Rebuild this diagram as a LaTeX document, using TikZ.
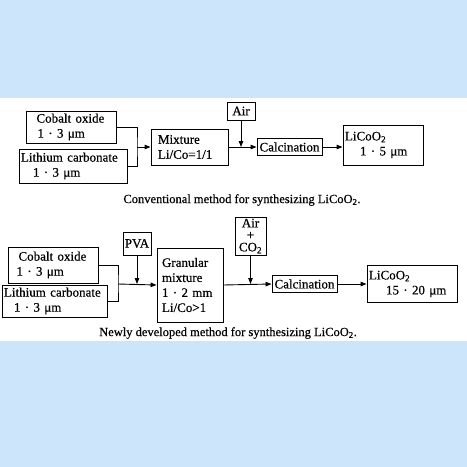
\documentclass[tikz,border=0pt]{standalone}
\usepackage{fontspec}
\setmainfont{Liberation Serif}[FakeBold=0.5]
\usetikzlibrary{arrows.meta,positioning}
\definecolor{bgblue}{RGB}{205,229,250}

\begin{document}
\begin{tikzpicture}[x=1pt,y=-1pt,>={Triangle[length=6pt,width=4.5pt]},line width=0.9pt,
                    every node/.style={font=\fontsize{13}{15}\selectfont}]
  \tikzstyle{box}=[draw,inner xsep=2pt,inner ysep=1pt,align=left]
  \tikzstyle{small box}=[box,align=center,inner sep=1pt]
  \tikzstyle{caption}=[font=\fontsize{12.5}{14}\selectfont]

  \useasboundingbox (0,0) rectangle (467,467);
  \fill[bgblue] (0,0) rectangle (467,467);
  \fill[white]  (0,98) rectangle (467,341);

  % conventional method
  \node[box,text width=86pt,minimum height=32pt]  (CobaltA)   at (71.5,127)  {\hspace*{8pt}Cobalt oxide\\\hspace*{9pt}1 · 3 μm};
  \node[box,text width=104pt,minimum height=34pt] (LithiumA)  at (73,166)    {Lithium carbonate\\\hspace*{12pt}1 · 3 μm};
  \node[box,text width=73pt,minimum height=36pt]  (MixtureA)  at (189.5,147) {\hspace*{5pt}Mixture\\\hspace*{5pt}Li/Co=1/1};
  \node[small box,minimum width=28pt,minimum height=18pt] (AirA)  at (241,111)   {Air};
  \node[small box,minimum width=65pt,minimum height=17pt] (CalcA) at (289.5,147) {Calcination};
  \node[box,text width=76pt,minimum height=40pt]  (ProductA)  at (383,145)   {LiCoO\textsubscript{2}\\\hspace*{15pt}1 · 5 μm};
  \node[caption] (CaptionA) at (242,200) {Conventional method for synthesizing LiCoO\textsubscript{2}.};

  \coordinate (JoinA) at (137,147);
  \draw (CobaltA.east) -| (JoinA) |- (LithiumA.east);
  \draw[->] (JoinA) -- (MixtureA.west);
  \draw[->] (MixtureA.east) -- (CalcA.west);
  \draw[->] (AirA.south) -- (AirA |- CalcA.west);
  \draw[->] (CalcA.east) -- (CalcA.east -| ProductA.west);

  % newly developed method
  \node[box,text width=86pt,minimum height=36pt]  (CobaltB)   at (53.5,265)  {\hspace*{8pt}Cobalt oxide\\\hspace*{6pt}1 · 3 μm};
  \node[box,text width=101pt,minimum height=32pt] (LithiumB)  at (54.5,301)  {Lithium carbonate\\\hspace*{10pt}1 · 3 μm};
  \node[small box,minimum width=28pt,minimum height=23pt] (PVAB)  at (137,243.5) {PVA};
  \node[box,text width=62pt,minimum height=74pt]  (GranularB) at (190,285)   {\hspace*{3pt}Granular\\\hspace*{3pt}mixture\\\hspace*{3pt}1 · 2 mm\\\hspace*{3pt}Li/Co>1};
  \node[small box,minimum width=31pt,minimum height=38pt,font=\fontsize{13}{12}\selectfont] (AirB) at (250.5,236) {Air\\+\\CO\textsubscript{2}};
  \node[small box,minimum width=65pt,minimum height=17pt] (CalcB) at (304.5,284) {Calcination};
  \node[box,text width=86pt,minimum height=37pt]  (ProductB)  at (412,284)   {LiCoO\textsubscript{2}\\\hspace*{17pt}15 · 20 μm};
  \node[caption] (CaptionB) at (228,333) {Newly developed method for synthesizing LiCoO\textsubscript{2}.};

  \coordinate (JoinB) at (118,284);
  \draw (CobaltB.east) -| (JoinB) |- (LithiumB.east);
  \draw[->] (JoinB) -- (GranularB.west);
  \draw[->] (PVAB.south) -- (PVAB |- JoinB);
  \draw[->] (GranularB.east) -- (CalcB.west);
  \draw[->] (AirB.south) -- (AirB |- CalcB.west);
  \draw[->] (CalcB.east) -- (CalcB.east -| ProductB.west);
\end{tikzpicture}
\end{document}
